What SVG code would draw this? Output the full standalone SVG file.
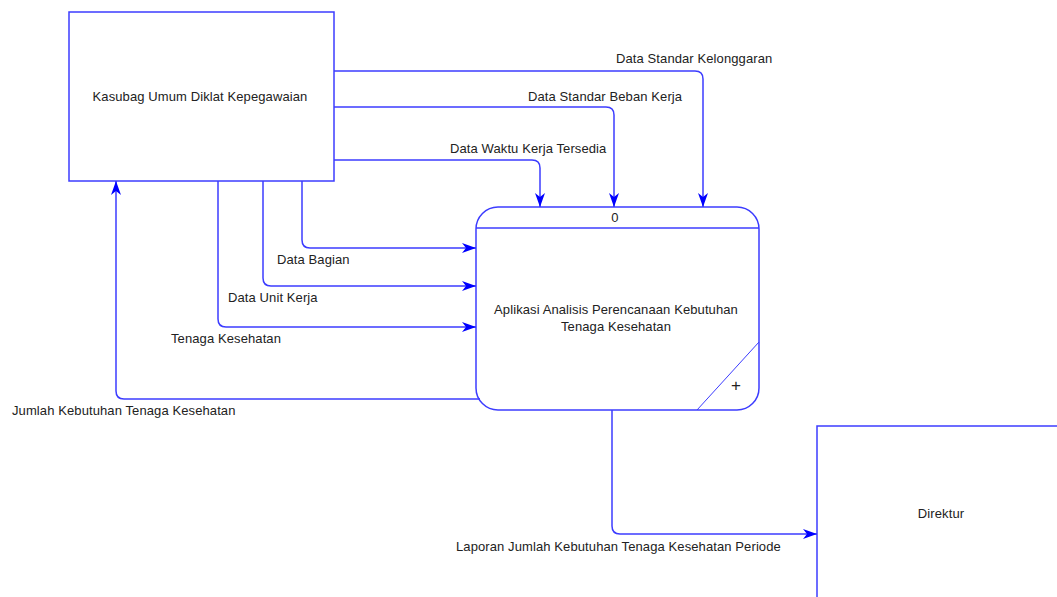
<svg xmlns="http://www.w3.org/2000/svg" width="1057" height="597" viewBox="0 0 1057 597">
  <style>
    .box { fill: #ffffff; stroke: #3c3cff; stroke-width: 1.5; }
    .flow { fill: none; stroke: #3c3cff; stroke-width: 1.5; }
    .thin { fill: none; stroke: #3c3cff; stroke-width: 1; }
    .lbl { font-family: "Liberation Sans", Arial, sans-serif; font-size: 13px; letter-spacing: 0.1px; fill: #222222; }
    .mid { text-anchor: middle; }
  </style>
  <defs>
    <marker id="arrow" viewBox="-15 -6 16 12" refX="0" refY="0" markerWidth="16" markerHeight="12" markerUnits="userSpaceOnUse" orient="auto">
      <path d="M0,0 L-14,-5 L-10,0 L-14,5 Z" fill="#0000ff"/>
    </marker>
  </defs>
  <rect width="1057" height="597" fill="#ffffff"/>

  <!-- external entity: Kasubag -->
  <g id="kasubag">
    <rect class="box" x="69" y="12" width="265" height="169"/>
    <text class="lbl mid" x="200" y="101">Kasubag Umum Diklat Kepegawaian</text>
  </g>

  <!-- process 0 -->
  <g id="process0">
    <rect class="box" x="476" y="207" width="283" height="203" rx="22" ry="22"/>
    <line class="flow" x1="476" y1="228" x2="759" y2="228"/>
    <line class="thin" x1="697" y1="410" x2="759" y2="342"/>
    <text class="lbl mid" x="615" y="222">0</text>
    <text class="lbl mid" x="616" y="314">Aplikasi Analisis Perencanaan Kebutuhan</text>
    <text class="lbl mid" x="616" y="331">Tenaga Kesehatan</text>
    <text class="lbl mid" x="736" y="391" style="font-size:17px;font-weight:300">+</text>
  </g>

  <!-- external entity: Direktur -->
  <g id="direktur">
    <rect class="box" x="817" y="426" width="260" height="200"/>
    <text class="lbl mid" x="941" y="518">Direktur</text>
  </g>

  <!-- data flows -->
  <g id="connectors">
    <path class="flow" marker-end="url(#arrow)" d="M334,71 H695 Q703,71 703,79 V207"/>
    <text class="lbl" x="616" y="63">Data Standar Kelonggaran</text>

    <path class="flow" marker-end="url(#arrow)" d="M334,107 H606 Q614,107 614,115 V207"/>
    <text class="lbl" x="528" y="101">Data Standar Beban Kerja</text>

    <path class="flow" marker-end="url(#arrow)" d="M334,160 H532 Q540,160 540,168 V207"/>
    <text class="lbl" x="450" y="153">Data Waktu Kerja Tersedia</text>

    <path class="flow" marker-end="url(#arrow)" d="M302,181 V240 Q302,248 310,248 H476"/>
    <text class="lbl" x="277" y="264">Data Bagian</text>

    <path class="flow" marker-end="url(#arrow)" d="M263,181 V278 Q263,286 271,286 H476"/>
    <text class="lbl" x="228" y="302">Data Unit Kerja</text>

    <path class="flow" marker-end="url(#arrow)" d="M218,181 V319 Q218,327 226,327 H476"/>
    <text class="lbl" x="171" y="343">Tenaga Kesehatan</text>

    <path class="flow" marker-end="url(#arrow)" d="M480,399 H124 Q116,399 116,391 V181"/>
    <text class="lbl" x="12" y="415">Jumlah Kebutuhan Tenaga Kesehatan</text>

    <path class="flow" marker-end="url(#arrow)" d="M612,410 V526 Q612,534 620,534 H817"/>
    <text class="lbl" x="456" y="551">Laporan Jumlah Kebutuhan Tenaga Kesehatan Periode</text>
  </g>
</svg>
